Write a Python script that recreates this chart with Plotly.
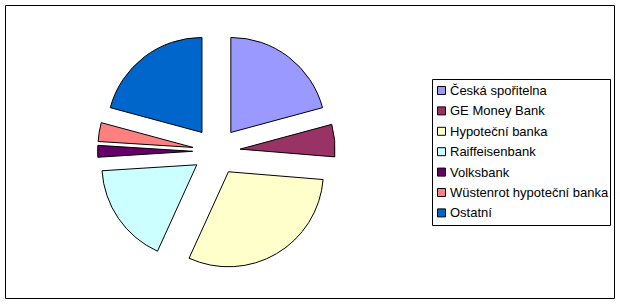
import plotly.graph_objects as go

# Data (shares in %)
labels = ["Česká spořitelna", "GE Money Bank", "Hypoteční banka", "Raiffeisenbank",
          "Volksbank", "Wüstenrot hypoteční banka", "Ostatní"]
values = [20.8, 5.5, 30.5, 17.2, 2.0, 3.2, 20.8]
colors = ["#9999FF", "#993366", "#FFFFCC", "#CCFFFF", "#660066", "#FF8080", "#0066CC"]

W, H = 620, 304


def px(x):
    return x / W


def py(y):
    return 1 - y / H


# pie geometry (pixels)
cx, cy, r_ext = 216.4, 151.3, 118.75

fig = go.Figure()
fig.add_trace(go.Pie(
    labels=labels, values=values, sort=False, direction="clockwise", rotation=0,
    marker=dict(colors=colors, line=dict(color="black", width=1)),
    pull=[0.25] * len(values), textinfo="none", showlegend=False,
    domain=dict(x=[px(cx - r_ext), px(cx + r_ext)], y=[py(cy + r_ext), py(cy - r_ext)]),
))

shapes = [
    # outer chart border
    dict(type="rect", xref="paper", yref="paper", x0=px(5.5), x1=px(614.5), y0=py(298.5), y1=py(5.5),
         line=dict(color="black", width=1), fillcolor="rgba(0,0,0,0)"),
    # legend box
    dict(type="rect", xref="paper", yref="paper", x0=px(432.5), x1=px(610.5), y0=py(225.5), y1=py(79.5),
         line=dict(color="black", width=1), fillcolor="rgba(0,0,0,0)"),
]
annotations = []
row0, step = 90.5, 20.4
for i, (lab, col) in enumerate(zip(labels, colors)):
    yc = row0 + i * step
    shapes.append(dict(type="rect", xref="paper", yref="paper",
                       x0=px(437.5), x1=px(445.5), y0=py(yc + 4), y1=py(yc - 4),
                       line=dict(color="black", width=1), fillcolor=col))
    annotations.append(dict(text=lab, xref="paper", yref="paper", x=px(447.5), y=py(yc),
                            xanchor="left", yanchor="middle", showarrow=False,
                            font=dict(family="Liberation Sans, Arial, sans-serif", size=13, color="black")))

fig.update_layout(
    width=W, height=H, margin=dict(l=0, r=0, t=0, b=0),
    paper_bgcolor="white", plot_bgcolor="white",
    shapes=shapes, annotations=annotations,
)
fig.write_html("out.html")
